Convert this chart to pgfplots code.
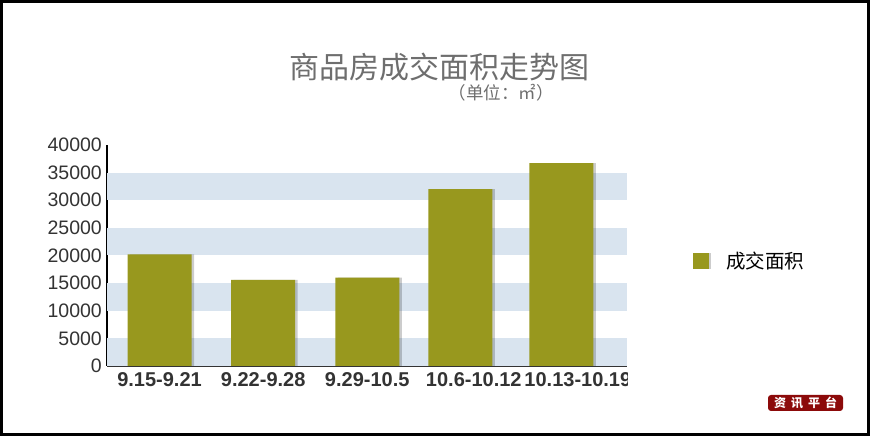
\documentclass[border=0pt]{standalone}
\usepackage{pgfplots}
\pgfplotsset{compat=1.18}
\usepackage{fontspec}
\setmainfont{Liberation Sans}
\newfontfamily\cjk{Noto Sans CJK SC}
\definecolor{olive}{RGB}{152,152,30}
\definecolor{band}{RGB}{217,228,239}
\definecolor{tick}{RGB}{51,51,51}
\definecolor{ttl}{RGB}{110,110,110}
\definecolor{logo}{RGB}{140,10,10}
\begin{document}
\begin{tikzpicture}
\useasboundingbox (0pt,0pt) rectangle (873pt,438pt);
\begin{axis}[
  scale only axis, width=520pt, height=221pt,
  at={(107pt,72pt)}, anchor=south west,
  xmin=-0.524, xmax=4.663, ymin=0, ymax=40000,
  axis x line*=bottom, axis y line*=left,
  x axis line style={draw=tick, line width=2pt},
  y axis line style={draw=black, line width=2pt},
  major tick length=0pt,
  xtick={0,1.034,2.072,3,4.008},
  xticklabels={9.15-9.21,9.22-9.28,9.29-10.5,\hspace{27pt}10.6-10.12,\hspace{33pt}10.13-10.19},
  xticklabel style={font=\bfseries\fontsize{20}{20}\selectfont, text=tick, anchor=north, inner sep=0pt, yshift=-6pt},
  ytick={0,5000,...,40000},
  yticklabel style={font=\fontsize{19.5}{20}\selectfont, text=tick, anchor=east, inner sep=0pt, xshift=-5pt},
  scaled y ticks=false,
  /pgf/number format/1000 sep={},
  /pgf/number format/assume math mode=true,
  ybar, bar width=64pt,
  legend style={at={(1.127,0.475)}, anchor=west, draw=none, fill=none, inner sep=0pt,
    font=\cjk\fontsize{19.5}{20}\selectfont,
    /tikz/every odd column/.append style={column sep=13pt}},
  legend image code/.code={\fill[black,opacity=0.2] (2pt,-8pt) rectangle (18pt,8pt);
    \fill[olive] (0pt,-8pt) rectangle (16pt,8pt);},
]
\fill[band] (axis cs:-0.524,0) rectangle (axis cs:4.663,5000);
\fill[band] (axis cs:-0.524,10000) rectangle (axis cs:4.663,15000);
\fill[band] (axis cs:-0.524,20000) rectangle (axis cs:4.663,25000);
\fill[band] (axis cs:-0.524,30000) rectangle (axis cs:4.663,35000);
\addplot[forget plot, fill=black, fill opacity=0.2, draw=none, bar shift=2.5pt]
  coordinates {(0,20200) (1.034,15600) (2.072,16000) (3,32000) (4.008,36700)};
\addplot[fill=olive, draw=none, bar shift=0pt]
  coordinates {(0,20200) (1.034,15600) (2.072,16000) (3,32000) (4.008,36700)};
\addlegendentry{成交面积}
\end{axis}
\fill[white] (628pt,45pt) rectangle (680pt,70pt);
\node[font=\cjk\fontsize{30}{30}\selectfont, text=ttl] at (439pt,371pt) {商品房成交面积走势图};
\node[font=\cjk\fontsize{17.5}{17.5}\selectfont, text=ttl] at (501pt,345.5pt) {（单位：㎡）};
\node[fill=logo, rounded corners=3pt, minimum width=75pt, minimum height=16pt, inner sep=0pt,
  text=white, font=\cjk\bfseries\fontsize{12}{12}\selectfont] at (805.5pt,35pt)
  {资\hspace{5pt}讯\hspace{5pt}平\hspace{5pt}台};
\draw[black, line width=3pt] (1.4pt,3.6pt) rectangle (868.5pt,436.4pt);
\end{tikzpicture}
\end{document}
